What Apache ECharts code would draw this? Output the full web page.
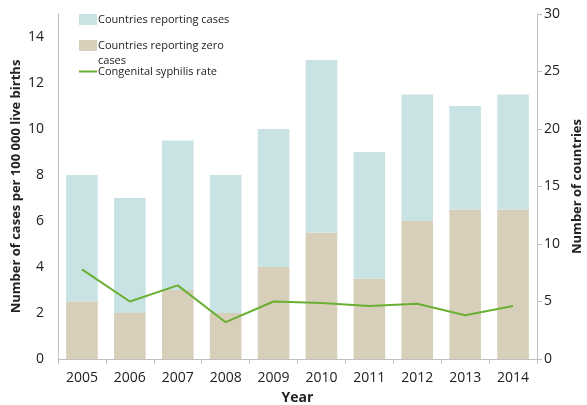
<!DOCTYPE html>
<html><head><meta charset="utf-8">
<script src="https://cdn.jsdelivr.net/npm/echarts@6/dist/echarts.min.js"></script>
<style>html,body{margin:0;padding:0;background:#fff}#c{width:587px;height:405px}</style>
</head><body><div id="c"></div>
<script>
const years = ['2005','2006','2007','2008','2009','2010','2011','2012','2013','2014'];
const countriesReportingZero = [5, 4, 6, 4, 8, 11, 7, 12, 13, 13];
const countriesReportingCases = [11, 10, 13, 12, 12, 15, 11, 11, 9, 10];
const syphilisRate = [3.9, 2.5, 3.2, 1.6, 2.5, 2.43, 2.3, 2.4, 1.9, 2.3];

const FONT = 'Open Sans';
const txt = '#222';
const axisGray = '#BFBFBF';
const blue = '#C9E3E5', tan = '#D8CFBA', green = '#6AAF32';

const legendText = {fontFamily:FONT, fontSize:11, color:txt, padding:[0,0,0,-4]};
const chart = echarts.init(document.getElementById('c'), null, {renderer:'canvas'});
chart.setOption({
  animation:false,
  textStyle:{fontFamily:FONT},
  grid:{left:58, right:50, top:14, bottom:46, containLabel:false, outerBoundsMode:'none'},
  legend:[
    {left:79, top:14, padding:0, itemWidth:18, itemHeight:11, data:[{name:'Countries reporting cases', icon:'rect'}], textStyle:legendText},
    {left:79, top:40, padding:0, itemWidth:18, itemHeight:11, data:[{name:'Countries reporting zero', icon:'rect'}], textStyle:legendText},
    {left:79, top:66, padding:0, itemWidth:18, itemHeight:2, data:[{name:'Congenital syphilis rate', icon:'rect'}], textStyle:legendText}
  ],
  graphic:[{type:'text', left:98, top:55, style:{text:'cases', fontFamily:FONT, fontSize:11, fill:txt}}],
  xAxis:{type:'category', data:years, name:'Year', nameLocation:'middle', nameGap:32,
    nameTextStyle:{fontFamily:FONT, fontSize:14, fontWeight:'bold', color:txt},
    axisLine:{lineStyle:{color:axisGray}}, axisTick:{show:true, length:5, lineStyle:{color:axisGray}},
    axisLabel:{fontFamily:FONT, fontSize:14, color:txt, margin:12}},
  yAxis:[
    {type:'value', min:0, max:15, interval:2, name:'Number of cases per 100 000 live births', nameLocation:'middle', nameGap:35,
     nameMoveOverlap:false,
     nameTextStyle:{fontFamily:FONT, fontSize:13, fontWeight:'bold', color:txt},
     axisLine:{show:true, lineStyle:{color:axisGray}}, axisTick:{show:false}, splitLine:{show:false},
     axisLabel:{fontFamily:FONT, fontSize:14, color:txt, margin:14, showMaxLabel:false}},
    {type:'value', min:0, max:30, interval:5, name:'Number of countries', nameLocation:'middle', nameGap:34, nameRotate:90,
     nameTextStyle:{fontFamily:FONT, fontSize:13, fontWeight:'bold', color:txt},
     axisLine:{show:true, lineStyle:{color:axisGray}}, axisTick:{show:true, length:5, lineStyle:{color:axisGray}}, splitLine:{show:false},
     axisLabel:{fontFamily:FONT, fontSize:14, color:txt, margin:7}}
  ],
  series:[
    {name:'Countries reporting zero', type:'bar', stack:'c', yAxisIndex:1, data:countriesReportingZero,
     itemStyle:{color:tan}, barCategoryGap:'34%'},
    {name:'Countries reporting cases', type:'bar', stack:'c', yAxisIndex:1, data:countriesReportingCases,
     itemStyle:{color:blue}},
    {name:'Congenital syphilis rate', type:'line', yAxisIndex:0, data:syphilisRate, symbol:'none',
     lineStyle:{color:green, width:2}, itemStyle:{color:green}, z:5}
  ]
});
</script></body></html>
